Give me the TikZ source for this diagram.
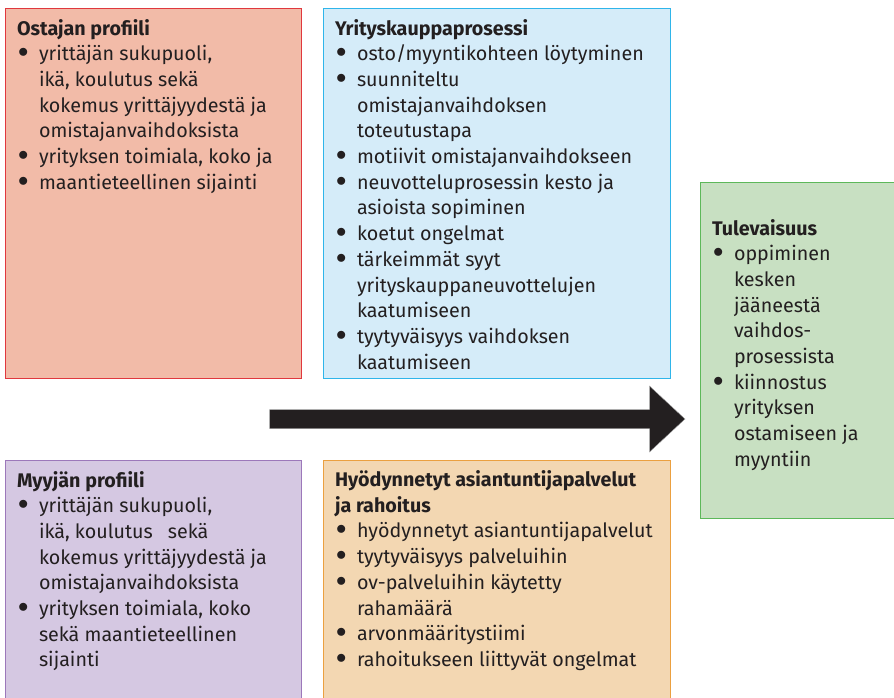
\documentclass[tikz,border=0pt]{standalone}
\usepackage{fontspec}
\setmainfont{Fira Sans}
\definecolor{txtc}{HTML}{231F20}
\definecolor{redF}{HTML}{F2BBA8}\definecolor{redD}{HTML}{E0383E}
\definecolor{bluF}{HTML}{D5ECF9}\definecolor{bluD}{HTML}{2FB5EA}
\definecolor{grnF}{HTML}{C8E0C2}\definecolor{grnD}{HTML}{5DB85A}
\definecolor{purF}{HTML}{D5C8E2}\definecolor{purD}{HTML}{9C78BA}
\definecolor{orgF}{HTML}{F3D7B2}\definecolor{orgD}{HTML}{EBA040}
\definecolor{arrF}{HTML}{231F20}
\newcommand\bl[1]{\noindent\mbox{\makebox[22pt][l]{\hspace{1pt}\smash{\raisebox{3pt}{$\bullet$}}}#1}\par}
\newcommand\cl[1]{\noindent\mbox{\hspace*{22pt}#1}\par}
\newcommand\ttl[1]{\noindent\mbox{\bfseries #1}\par}
\newcommand\boxtext[2]{\parbox[t]{#1}{\fontsize{19.7}{25.7}\selectfont #2}}
\begin{document}
\begin{tikzpicture}[x=1pt,y=-1pt,
  panel/.style={rectangle, inner sep=0pt, outer sep=0pt, line width=1pt, anchor=north west},
  txt/.style={inner sep=0pt, outer sep=0pt, anchor=base west, text=txtc}]
\useasboundingbox (0,0) rectangle (894,697);
% boxes
\node[panel, fill=redF, draw=redD, minimum width=295.5pt, minimum height=370pt] (ost) at (5.5,8) {};
\node[panel, fill=bluF, draw=bluD, minimum width=347pt, minimum height=370pt] (yri) at (323.5,8) {};
\node[panel, fill=grnF, draw=grnD, minimum width=200pt, minimum height=336pt] (tul) at (700,182.5) {};
\node[panel, fill=purF, draw=purD, minimum width=295.5pt, minimum height=260pt] (myy) at (5.5,460.5) {};
\node[panel, fill=orgF, draw=orgD, minimum width=347pt, minimum height=260pt] (hyo) at (323.5,460.5) {};
% arrow
\coordinate (a1) at (269.5,409.5);
\coordinate (a2) at (649.5,409.5);
\coordinate (a3) at (649.5,386);
\coordinate (a4) at (685,419);
\coordinate (a5) at (649.5,452);
\coordinate (a6) at (649.5,428.5);
\coordinate (a7) at (269.5,428.5);
\draw[fill=arrF, draw=gray!70, line width=0.4pt] (a1) -- (a2) -- (a3) -- (a4) -- (a5) -- (a6) -- (a7) -- cycle;
% texts
\node[txt] (ostT) at (17,35) {\boxtext{278pt}{%
\ttl{Ostajan profiili}
\bl{yrittäjän sukupuoli,}
\cl{ikä, koulutus sekä}
\cl{kokemus yrittäjyydestä ja}
\cl{omistajanvaihdoksista}
\bl{yrityksen toimiala, koko ja}
\bl{maantieteellinen sijainti}}};
\node[txt] (yriT) at (335,35) {\boxtext{330pt}{%
\ttl{Yrityskauppaprosessi}
\bl{osto/myyntikohteen löytyminen}
\bl{suunniteltu}
\cl{omistajanvaihdoksen}
\cl{toteutustapa}
\bl{motiivit omistajanvaihdokseen}
\bl{neuvotteluprosessin kesto ja}
\cl{asioista sopiminen}
\bl{koetut ongelmat}
\bl{tärkeimmät syyt}
\cl{yrityskauppaneuvottelujen}
\cl{kaatumiseen}
\bl{tyytyväisyys vaihdoksen}
\cl{kaatumiseen}}};
\node[txt] (tulT) at (712,235) {\boxtext{175pt}{%
\ttl{Tulevaisuus}
\bl{oppiminen}
\cl{kesken}
\cl{jääneestä}
\cl{vaihdos-}
\cl{prosessista}
\bl{kiinnostus}
\cl{yrityksen}
\cl{ostamiseen ja}
\cl{myyntiin}}};
\node[txt] (myyT) at (17,487) {\boxtext{278pt}{%
\ttl{Myyjän profiili}
\bl{yrittäjän sukupuoli,}
\cl{ikä, koulutus\hspace{15pt}sekä}
\cl{kokemus yrittäjyydestä ja}
\cl{omistajanvaihdoksista}
\bl{yrityksen toimiala, koko}
\cl{sekä maantieteellinen}
\cl{sijainti}}};
\node[txt] (hyoT) at (335,486.5) {\boxtext{330pt}{%
\ttl{Hyödynnetyt asiantuntijapalvelut}
\ttl{ja rahoitus}
\bl{hyödynnetyt asiantuntijapalvelut}
\bl{tyytyväisyys palveluihin}
\bl{ov-palveluihin käytetty}
\cl{rahamäärä}
\bl{arvonmääritystiimi}
\bl{rahoitukseen liittyvät ongelmat}}};
\end{tikzpicture}
\end{document}
